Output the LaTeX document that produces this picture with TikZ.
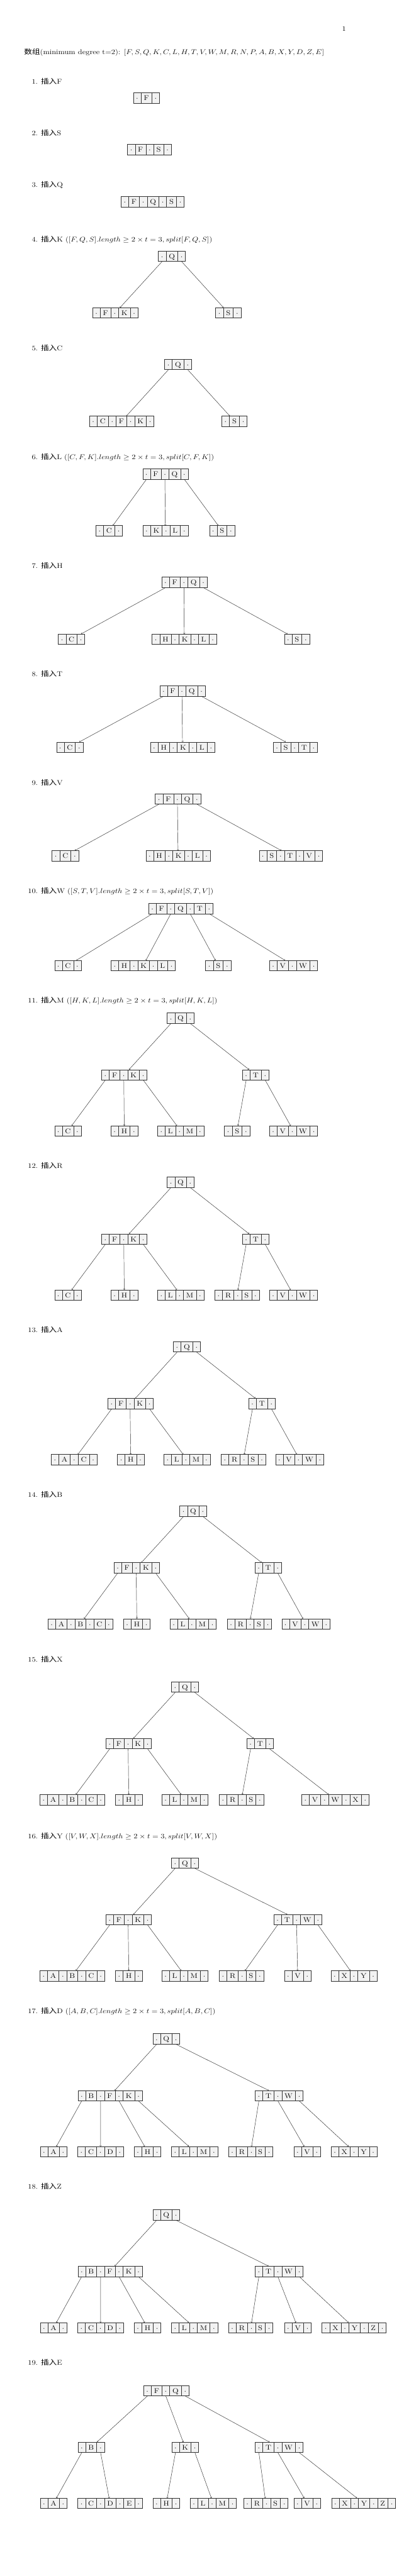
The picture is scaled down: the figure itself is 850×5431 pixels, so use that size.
\documentclass[tikz,border=0pt]{standalone}
\usepackage{fontspec}
\newfontfamily\cjk{Noto Sans CJK SC}
\usetikzlibrary{shapes.multipart}
\newcommand\hs[1]{\scalebox{1.165}[1]{#1}}
\newcommand\fs{\fontsize{14.4}{17}\selectfont}
\newcommand\bst{\rule[-2.4pt]{0pt}{15.7pt}}
\newcommand\bdot{\bst\hs{$\cdot$}}
\newcommand\bkey[1]{\bst\hs{#1}}
\newcommand\bA[1]{\bdot\nodepart{two}\bkey{#1}\nodepart{three}\bdot}
\newcommand\bB[2]{\bdot\nodepart{two}\bkey{#1}\nodepart{three}\bdot\nodepart{four}\bkey{#2}\nodepart{five}\bdot}
\newcommand\bC[3]{\bdot\nodepart{two}\bkey{#1}\nodepart{three}\bdot\nodepart{four}\bkey{#2}\nodepart{five}\bdot\nodepart{six}\bkey{#3}\nodepart{seven}\bdot}
\newcommand\ins[1]{\hs{{\cjk 插入}#1}}
\newcommand\spl[2]{\hs{{\cjk 插入}#1 ($[#2].length \geq 2\times t = 3, split[#2]$)}}
\tikzset{
  bn/.style={rectangle split, rectangle split horizontal, draw=black!80, fill=gray!10,
    inner xsep=5.58pt, inner ysep=3pt, line width=0.6pt, font=\fs},
  b1/.style={bn, rectangle split parts=3},
  b2/.style={bn, rectangle split parts=5},
  b3/.style={bn, rectangle split parts=7},
  edge/.style={->, line width=0.6pt, draw=black!85},
  num/.style={anchor=base east, inner sep=0pt, font=\fs},
  lab/.style={anchor=base west, inner sep=0pt, font=\fs}
}
\begin{document}
\begin{tikzpicture}[x=1pt,y=-1pt]
\useasboundingbox (0,0) rectangle (850,5431);
\node[inner sep=0pt, anchor=base, font=\fs] (pg) at (725,65.7) {\hs{1}};
\node[lab] (title) at (50.7,114.3) {\hs{{\cjk 数组}(minimum degree t=2): $[F,S,Q,K,C,L,H,T,V,W,M,R,N,P,A,B,X,Y,D,Z,E]$}};
% labels
\node[num] (n1) at (80,177.3) {\hs{1.}}; \node[lab] (t1) at (86,177.3) {\ins{F}};
\node[num] (n2) at (80,285.7) {\hs{2.}}; \node[lab] (t2) at (86,285.7) {\ins{S}};
\node[num] (n3) at (80,395) {\hs{3.}}; \node[lab] (t3) at (86,395) {\ins{Q}};
\node[num] (n4) at (80,509.3) {\hs{4.}}; \node[lab] (t4) at (86,509.3) {\spl{K}{F,Q,S}};
\node[num] (n5) at (80,739.3) {\hs{5.}}; \node[lab] (t5) at (86,739.3) {\ins{C}};
\node[num] (n6) at (80,968.3) {\hs{6.}}; \node[lab] (t6) at (86,968.3) {\spl{L}{C,F,K}};
\node[num] (n7) at (80,1197.7) {\hs{7.}}; \node[lab] (t7) at (86,1197.7) {\ins{H}};
\node[num] (n8) at (80,1425.7) {\hs{8.}}; \node[lab] (t8) at (86,1425.7) {\ins{T}};
\node[num] (n9) at (80,1655) {\hs{9.}}; \node[lab] (t9) at (86,1655) {\ins{V}};
\node[num] (n10) at (80,1883.3) {\hs{10.}}; \node[lab] (t10) at (86,1883.3) {\spl{W}{S,T,V}};
\node[num] (n11) at (80,2114) {\hs{11.}}; \node[lab] (t11) at (86,2114) {\spl{M}{H,K,L}};
\node[num] (n12) at (80,2462.7) {\hs{12.}}; \node[lab] (t12) at (86,2462.7) {\ins{R}};
\node[num] (n13) at (80,2809.3) {\hs{13.}}; \node[lab] (t13) at (86,2809.3) {\ins{A}};
\node[num] (n14) at (80,3156.7) {\hs{14.}}; \node[lab] (t14) at (86,3156.7) {\ins{B}};
\node[num] (n15) at (80,3503.3) {\hs{15.}}; \node[lab] (t15) at (86,3503.3) {\ins{X}};
\node[num] (n16) at (80,3876) {\hs{16.}}; \node[lab] (t16) at (86,3876) {\spl{Y}{V,W,X}};
\node[num] (n17) at (80,4245) {\hs{17.}}; \node[lab] (t17) at (86,4245) {\spl{D}{A,B,C}};
\node[num] (n18) at (80,4614.3) {\hs{18.}}; \node[lab] (t18) at (86,4614.3) {\ins{Z}};
\node[num] (n19) at (80,4986) {\hs{19.}}; \node[lab] (t19) at (86,4986) {\ins{E}};
% step 1-3
\node[b1] (s1r) at (308.4,206.5) {\bA{F}};
\node[b2] (s2r) at (314.7,315.2) {\bB{F}{S}};
\node[b3] (s3r) at (321.5,425.2) {\bC{F}{Q}{S}};
% step 4
\node[b1] (s4r) at (362.1,539.9) {\bA{Q}};
\node[b2] (s4a) at (242.8,659.6) {\bB{F}{K}};
\node[b1] (s4b) at (480.9,659.6) {\bA{S}};
\draw[edge] (s4r.one south) -- (s4a); \draw[edge] (s4r.three south) -- (s4b);
% step 5
\node[b1] (s5r) at (375.2,768.2) {\bA{Q}};
\node[b3] (s5a) at (256.4,887.9) {\bC{C}{F}{K}};
\node[b1] (s5b) at (494,887.9) {\bA{S}};
\draw[edge] (s5r.one south) -- (s5a); \draw[edge] (s5r.three south) -- (s5b);
% step 6
\node[b2] (s6r) at (348.5,999.2) {\bB{F}{Q}};
\node[b1] (s6a) at (230,1118.9) {\bA{C}};
\node[b2] (s6b) at (348.5,1118.9) {\bB{K}{L}};
\node[b1] (s6c) at (467.8,1118.9) {\bA{S}};
\draw[edge] (s6r.one south) -- (s6a); \draw[edge] (s6r.three south) -- (s6b); \draw[edge] (s6r.five south) -- (s6c);
% step 7
\node[b2] (s7r) at (388.6,1227.6) {\bB{F}{Q}};
\node[b1] (s7a) at (150.7,1347.6) {\bA{C}};
\node[b3] (s7b) at (388.3,1347.6) {\bC{H}{K}{L}};
\node[b1] (s7c) at (625.6,1347.6) {\bA{S}};
\draw[edge] (s7r.one south) -- (s7a); \draw[edge] (s7r.three south) -- (s7b); \draw[edge] (s7r.five south) -- (s7c);
% step 8
\node[b2] (s8r) at (384.5,1456.6) {\bB{F}{Q}};
\node[b1] (s8a) at (146.9,1575.2) {\bA{C}};
\node[b3] (s8b) at (384.7,1575.2) {\bC{H}{K}{L}};
\node[b2] (s8c) at (622.1,1575.2) {\bB{S}{T}};
\draw[edge] (s8r.one south) -- (s8a); \draw[edge] (s8r.three south) -- (s8b); \draw[edge] (s8r.five south) -- (s8c);
% step 9
\node[b2] (s9r) at (374.9,1684.2) {\bB{F}{Q}};
\node[b1] (s9a) at (137.6,1804.2) {\bA{C}};
\node[b3] (s9b) at (375.2,1804.2) {\bC{H}{K}{L}};
\node[b3] (s9c) at (612.8,1804.2) {\bC{S}{T}{V}};
\draw[edge] (s9r.one south) -- (s9a); \draw[edge] (s9r.three south) -- (s9b); \draw[edge] (s9r.five south) -- (s9c);
% step 10
\node[b3] (s10r) at (380.9,1915.2) {\bC{F}{Q}{T}};
\node[b1] (s10a) at (143,2035.6) {\bA{C}};
\node[b3] (s10b) at (301.6,2035.6) {\bC{H}{K}{L}};
\node[b1] (s10c) at (459.7,2035.6) {\bA{S}};
\node[b2] (s10d) at (618.3,2035.6) {\bB{V}{W}};
\draw[edge] (s10r.one south) -- (s10a); \draw[edge] (s10r.three south) -- (s10b);
\draw[edge] (s10r.five south) -- (s10c); \draw[edge] (s10r.seven south) -- (s10d);
% step 11
\node[b1] (s11r) at (380.6,2146.6) {\bA{Q}};
\node[b2] (s11a) at (261.9,2265.9) {\bB{F}{K}};
\node[b1] (s11b) at (538.7,2265.9) {\bA{T}};
\node[b1] (s11c) at (143,2384.2) {\bA{C}};
\node[b1] (s11d) at (261.9,2384.2) {\bA{H}};
\node[b2] (s11e) at (380.7,2384.2) {\bB{L}{M}};
\node[b1] (s11f) at (499.5,2384.2) {\bA{S}};
\node[b2] (s11g) at (618.3,2384.2) {\bB{V}{W}};
\draw[edge] (s11r.one south) -- (s11a); \draw[edge] (s11r.three south) -- (s11b);
\draw[edge] (s11a.one south) -- (s11c); \draw[edge] (s11a.three south) -- (s11d); \draw[edge] (s11a.five south) -- (s11e);
\draw[edge] (s11b.one south) -- (s11f); \draw[edge] (s11b.three south) -- (s11g);
% step 12
\node[b1] (s12r) at (380.6,2492.6) {\bA{Q}};
\node[b2] (s12a) at (261.9,2612.2) {\bB{F}{K}};
\node[b1] (s12b) at (538.7,2612.2) {\bA{T}};
\node[b1] (s12c) at (143,2730.2) {\bA{C}};
\node[b1] (s12d) at (261.9,2730.2) {\bA{H}};
\node[b2] (s12e) at (380.7,2730.2) {\bB{L}{M}};
\node[b2] (s12f) at (499.5,2730.2) {\bB{R}{S}};
\node[b2] (s12g) at (618.3,2730.2) {\bB{V}{W}};
\draw[edge] (s12r.one south) -- (s12a); \draw[edge] (s12r.three south) -- (s12b);
\draw[edge] (s12a.one south) -- (s12c); \draw[edge] (s12a.three south) -- (s12d); \draw[edge] (s12a.five south) -- (s12e);
\draw[edge] (s12b.one south) -- (s12f); \draw[edge] (s12b.three south) -- (s12g);
% step 13
\node[b1] (s13r) at (393.7,2839.2) {\bA{Q}};
\node[b2] (s13a) at (275.2,2959.2) {\bB{F}{K}};
\node[b1] (s13b) at (552,2959.2) {\bA{T}};
\node[b2] (s13c) at (156.1,3077.2) {\bB{A}{C}};
\node[b1] (s13d) at (275.5,3077.2) {\bA{H}};
\node[b2] (s13e) at (394,3077.2) {\bB{L}{M}};
\node[b2] (s13f) at (512.8,3077.2) {\bB{R}{S}};
\node[b2] (s13g) at (631.3,3077.2) {\bB{V}{W}};
\draw[edge] (s13r.one south) -- (s13a); \draw[edge] (s13r.three south) -- (s13b);
\draw[edge] (s13a.one south) -- (s13c); \draw[edge] (s13a.three south) -- (s13d); \draw[edge] (s13a.five south) -- (s13e);
\draw[edge] (s13b.one south) -- (s13f); \draw[edge] (s13b.three south) -- (s13g);
% step 14
\node[b1] (s14r) at (407.1,3185.9) {\bA{Q}};
\node[b2] (s14a) at (288,3305.2) {\bB{F}{K}};
\node[b1] (s14b) at (565.1,3305.2) {\bA{T}};
\node[b3] (s14c) at (169.2,3423.6) {\bC{A}{B}{C}};
\node[b1] (s14d) at (288.3,3423.6) {\bA{H}};
\node[b2] (s14e) at (406.8,3423.6) {\bB{L}{M}};
\node[b2] (s14f) at (525.6,3423.6) {\bB{R}{S}};
\node[b2] (s14g) at (644.4,3423.6) {\bB{V}{W}};
\draw[edge] (s14r.one south) -- (s14a); \draw[edge] (s14r.three south) -- (s14b);
\draw[edge] (s14a.one south) -- (s14c); \draw[edge] (s14a.three south) -- (s14d); \draw[edge] (s14a.five south) -- (s14e);
\draw[edge] (s14b.one south) -- (s14f); \draw[edge] (s14b.three south) -- (s14g);
% step 15
\node[b1] (s15r) at (389.6,3556.6) {\bA{Q}};
\node[b2] (s15a) at (271.1,3675.9) {\bB{F}{K}};
\node[b1] (s15b) at (548,3675.9) {\bA{T}};
\node[b3] (s15c) at (152,3794.2) {\bC{A}{B}{C}};
\node[b1] (s15d) at (271.4,3794.2) {\bA{H}};
\node[b2] (s15e) at (389.6,3794.2) {\bB{L}{M}};
\node[b2] (s15f) at (508.7,3794.2) {\bB{R}{S}};
\node[b3] (s15g) at (706.5,3794.2) {\bC{V}{W}{X}};
\draw[edge] (s15r.one south) -- (s15a); \draw[edge] (s15r.three south) -- (s15b);
\draw[edge] (s15a.one south) -- (s15c); \draw[edge] (s15a.three south) -- (s15d); \draw[edge] (s15a.five south) -- (s15e);
\draw[edge] (s15b.one south) -- (s15f); \draw[edge] (s15b.three south) -- (s15g);
% step 16
\node[b1] (s16r) at (389.6,3927.6) {\bA{Q}};
\node[b2] (s16a) at (271.1,4047.2) {\bB{F}{K}};
\node[b2] (s16b) at (627.5,4047.2) {\bB{T}{W}};
\node[b3] (s16c) at (152,4165.6) {\bC{A}{B}{C}};
\node[b1] (s16d) at (271.4,4165.6) {\bA{H}};
\node[b2] (s16e) at (389.6,4165.6) {\bB{L}{M}};
\node[b2] (s16f) at (508.7,4165.6) {\bB{R}{S}};
\node[b1] (s16g) at (627.2,4165.6) {\bA{V}};
\node[b2] (s16h) at (745.8,4165.6) {\bB{X}{Y}};
\draw[edge] (s16r.one south) -- (s16a); \draw[edge] (s16r.three south) -- (s16b);
\draw[edge] (s16a.one south) -- (s16c); \draw[edge] (s16a.three south) -- (s16d); \draw[edge] (s16a.five south) -- (s16e);
\draw[edge] (s16b.one south) -- (s16f); \draw[edge] (s16b.three south) -- (s16g); \draw[edge] (s16b.five south) -- (s16h);
% step 17
\node[b1] (s17r) at (350.4,4298.6) {\bA{Q}};
\node[b3] (s17a) at (231.9,4418.2) {\bC{B}{F}{K}};
\node[b2] (s17b) at (588,4418.2) {\bB{T}{W}};
\node[b1] (s17c) at (112.8,4536.2) {\bA{A}};
\node[b2] (s17d) at (212,4536.2) {\bB{C}{D}};
\node[b1] (s17e) at (310.9,4536.2) {\bA{H}};
\node[b2] (s17f) at (409.8,4536.2) {\bB{L}{M}};
\node[b2] (s17g) at (528.3,4536.2) {\bB{R}{S}};
\node[b1] (s17h) at (647.1,4536.2) {\bA{V}};
\node[b2] (s17i) at (746,4536.2) {\bB{X}{Y}};
\draw[edge] (s17r.one south) -- (s17a); \draw[edge] (s17r.three south) -- (s17b);
\draw[edge] (s17a.one south) -- (s17c); \draw[edge] (s17a.three south) -- (s17d);
\draw[edge] (s17a.five south) -- (s17e); \draw[edge] (s17a.seven south) -- (s17f);
\draw[edge] (s17b.one south) -- (s17g); \draw[edge] (s17b.three south) -- (s17h); \draw[edge] (s17b.five south) -- (s17i);
% step 18
\node[b1] (s18r) at (350.4,4669.6) {\bA{Q}};
\node[b3] (s18a) at (231.9,4788.6) {\bC{B}{F}{K}};
\node[b2] (s18b) at (588,4788.6) {\bB{T}{W}};
\node[b1] (s18c) at (112.8,4907.6) {\bA{A}};
\node[b2] (s18d) at (212,4907.6) {\bB{C}{D}};
\node[b1] (s18e) at (310.9,4907.6) {\bA{H}};
\node[b2] (s18f) at (409.8,4907.6) {\bB{L}{M}};
\node[b2] (s18g) at (528.3,4907.6) {\bB{R}{S}};
\node[b1] (s18h) at (627.5,4907.6) {\bA{V}};
\node[b3] (s18i) at (746,4907.6) {\bC{X}{Y}{Z}};
\draw[edge] (s18r.one south) -- (s18a); \draw[edge] (s18r.three south) -- (s18b);
\draw[edge] (s18a.one south) -- (s18c); \draw[edge] (s18a.three south) -- (s18d);
\draw[edge] (s18a.five south) -- (s18e); \draw[edge] (s18a.seven south) -- (s18f);
\draw[edge] (s18b.one south) -- (s18g); \draw[edge] (s18b.three south) -- (s18h); \draw[edge] (s18b.five south) -- (s18i);
% step 19
\node[b2] (s19r) at (350.4,5040.2) {\bB{F}{Q}};
\node[b1] (s19a) at (192.1,5159.6) {\bA{B}};
\node[b1] (s19b) at (390.2,5159.6) {\bA{K}};
\node[b2] (s19c) at (588,5159.6) {\bB{T}{W}};
\node[b1] (s19d) at (112.8,5277.6) {\bA{A}};
\node[b3] (s19e) at (231.9,5277.6) {\bC{C}{D}{E}};
\node[b1] (s19f) at (350.4,5277.6) {\bA{H}};
\node[b2] (s19g) at (449.3,5277.6) {\bB{L}{M}};
\node[b2] (s19h) at (560.2,5277.6) {\bB{R}{S}};
\node[b1] (s19i) at (647.1,5277.6) {\bA{V}};
\node[b3] (s19j) at (766,5277.6) {\bC{X}{Y}{Z}};
\draw[edge] (s19r.one south) -- (s19a); \draw[edge] (s19r.three south) -- (s19b); \draw[edge] (s19r.five south) -- (s19c);
\draw[edge] (s19a.one south) -- (s19d); \draw[edge] (s19a.three south) -- (s19e);
\draw[edge] (s19b.one south) -- (s19f); \draw[edge] (s19b.three south) -- (s19g);
\draw[edge] (s19c.one south) -- (s19h); \draw[edge] (s19c.three south) -- (s19i); \draw[edge] (s19c.five south) -- (s19j);
\end{tikzpicture}
\end{document}
